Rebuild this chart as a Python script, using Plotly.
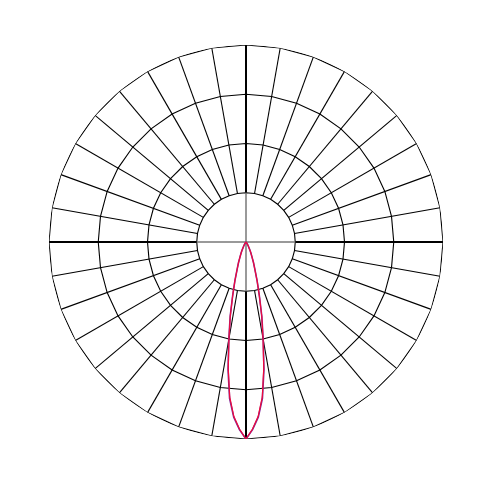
import plotly.graph_objects as go

# luminous intensity (% of max) vs gamma angle
gamma = [0, 2, 4, 6, 8, 10, 12, 14, 16, 18, 20, 22, 24, 26, 28, 30, 35, 40, 45, 50, 60, 70, 80, 90]
intensity_c0 = [100, 95, 88.7, 79.1, 64.7, 49.8, 38.4, 27.8, 20.4, 14.4, 11.1, 8.0, 6.0, 4.3, 3.0, 2.2, 1.0, 0.4, 0.1, 0, 0, 0, 0, 0]
intensity_c90 = [100, 95.3, 89.2, 79.8, 65.5, 50.3, 38.6, 28.0, 20.5, 14.5, 11.1, 8.0, 6.0, 4.3, 3.0, 2.2, 1.0, 0.4, 0.1, 0, 0, 0, 0, 0]

rings = [25, 50, 75, 100]
spoke_step = 10

fig = go.Figure()

# hand-drawn grid (spokes start at the first ring, like the source chart)
angles = list(range(0, 361, spoke_step))
for r in rings:
    fig.add_trace(go.Scatterpolar(r=[r] * len(angles), theta=angles, mode="lines",
                                  line=dict(color="black", width=1.1), hoverinfo="skip",
                                  showlegend=False, cliponaxis=False))

sp_r, sp_t = [], []
for a in range(0, 360, spoke_step):
    if a % 90 == 0:
        continue
    sp_r += [rings[0], rings[-1], None]
    sp_t += [a, a, None]
fig.add_trace(go.Scatterpolar(r=sp_r, theta=sp_t, mode="lines", line=dict(color="black", width=1.1),
                              hoverinfo="skip", showlegend=False, cliponaxis=False))

ax_r, ax_t, in_r, in_t = [], [], [], []
for a in (0, 90, 180, 270):
    ax_r += [rings[0], rings[-1], None]
    ax_t += [a, a, None]
    in_r += [0, rings[0], None]
    in_t += [a, a, None]
fig.add_trace(go.Scatterpolar(r=ax_r, theta=ax_t, mode="lines", line=dict(color="black", width=2),
                              hoverinfo="skip", showlegend=False, cliponaxis=False))
fig.add_trace(go.Scatterpolar(r=in_r, theta=in_t, mode="lines", line=dict(color="#777777", width=1.5),
                              hoverinfo="skip", showlegend=False, cliponaxis=False))

# curves, mirrored about the vertical axis
theta_full = [-g for g in gamma[::-1]][:-1] + gamma
c90_full = intensity_c90[::-1][:-1] + intensity_c90
c0_full = intensity_c0[::-1][:-1] + intensity_c0

fig.add_trace(go.Scatterpolar(r=c90_full, theta=theta_full, mode="lines", name="C90-C270",
                              line=dict(color="#7a2a9a", width=1.6), showlegend=False, cliponaxis=False))
fig.add_trace(go.Scatterpolar(r=c0_full, theta=theta_full, mode="lines", name="C0-C180",
                              line=dict(color="#ee0a3c", width=1.2), showlegend=False, cliponaxis=False))

fig.update_layout(
    width=494, height=491,
    margin=dict(l=41, r=59, t=37, b=60),
    paper_bgcolor="white",
    polar=dict(
        bgcolor="white",
        radialaxis=dict(range=[0, 100], visible=False),
        angularaxis=dict(visible=False, rotation=270, direction="counterclockwise"),
    ),
)

fig.write_html("out.html")
